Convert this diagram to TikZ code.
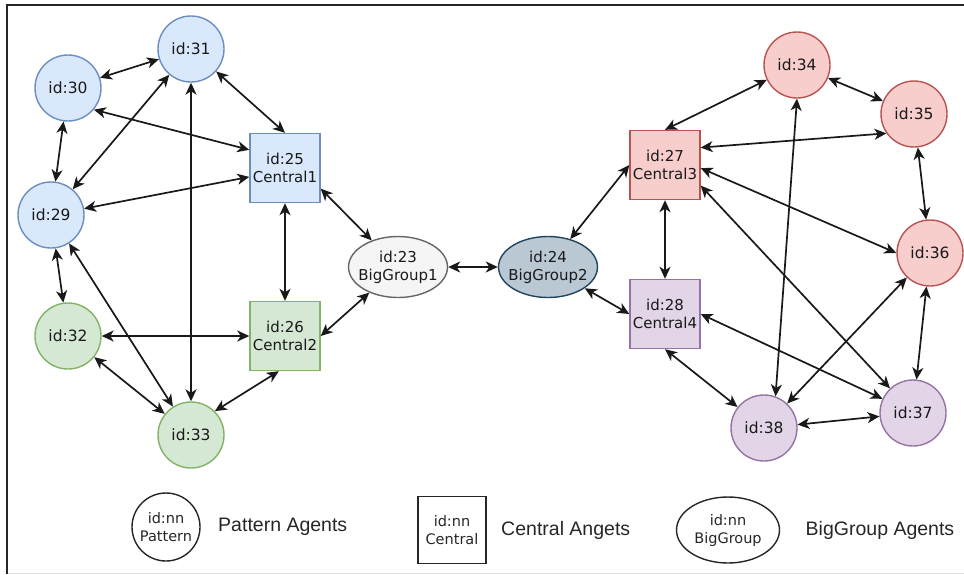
\documentclass[tikz,border=0pt]{standalone}
\usepackage{fontspec}
\setmainfont{DejaVu Sans}
\newfontfamily\legendfont{Liberation Sans}
\usetikzlibrary{positioning,arrows.meta,shapes.geometric}
\definecolor{blueFill}{HTML}{DAE8FC}
\definecolor{blueLine}{HTML}{6C8EBF}
\definecolor{greenFill}{HTML}{D5E8D4}
\definecolor{greenLine}{HTML}{82B366}
\definecolor{redFill}{HTML}{F8CECC}
\definecolor{redLine}{HTML}{B85450}
\definecolor{purpleFill}{HTML}{E1D5E7}
\definecolor{purpleLine}{HTML}{9673A6}
\definecolor{grayFill}{HTML}{F5F5F5}
\definecolor{grayLine}{HTML}{666666}
\definecolor{slateFill}{HTML}{BAC8D3}
\definecolor{slateLine}{HTML}{23445D}

\begin{document}
\begin{tikzpicture}[x=1pt, y=-1pt,
  agent/.style={circle, minimum size=66pt, inner sep=0pt, line width=1.4pt, text=black!90, font=\fontsize{15.5}{18}\selectfont},
  central/.style={rectangle, minimum width=70pt, minimum height=69pt, inner sep=1pt, align=center, line width=1.4pt, text=black!90, font=\fontsize{15}{18}\selectfont},
  biggroup/.style={ellipse, minimum width=99pt, minimum height=61pt, inner xsep=-14pt, inner ysep=0pt, align=center, line width=1.4pt, text=black!90, font=\fontsize{15}{18}\selectfont},
  link/.style={<->, line width=1.7pt, black!90, >={Stealth[length=12pt, width=11pt, inset=3.5pt]}},
  key/.style={draw=black!85, line width=1.4pt, inner sep=0pt, align=center, text=black!85, font=\fontsize{14.5}{18}\selectfont},
  keytext/.style={text=black!85, font=\legendfont\fontsize{19.5}{22}\selectfont}]
\useasboundingbox (0,0) rectangle (964,574);
\draw[gray!25, line width=1pt] (7,573) -- (964,573);
\draw[black!85, line width=1.6pt] (7,574) -- (7,5) -- (964,5);

% left group
\node[agent, fill=blueFill, draw=blueLine] (n31) at (191,49) {id:31};
\node[agent, fill=blueFill, draw=blueLine] (n30) at (68,88) {id:30};
\node[agent, fill=blueFill, draw=blueLine] (n29) at (51,215) {id:29};
\node[agent, fill=greenFill, draw=greenLine] (n32) at (68,336) {id:32};
\node[agent, fill=greenFill, draw=greenLine] (n33) at (191,435) {id:33};
\node[central, fill=blueFill, draw=blueLine] (n25) at (285,168) {id:25\\Central1};
\node[central, fill=greenFill, draw=greenLine] (n26) at (285,336) {id:26\\Central2};
\node[biggroup, fill=grayFill, draw=grayLine] (n23) at (398,267) {id:23\\BigGroup1};

% right group
\node[biggroup, fill=slateFill, draw=slateLine] (n24) at (548,267) {id:24\\BigGroup2};
\node[central, fill=redFill, draw=redLine] (n27) at (665,165) {id:27\\Central3};
\node[central, fill=purpleFill, draw=purpleLine] (n28) at (665,314) {id:28\\Central4};
\node[agent, fill=redFill, draw=redLine] (n34) at (797,65) {id:34};
\node[agent, fill=redFill, draw=redLine] (n35) at (914,114) {id:35};
\node[agent, fill=redFill, draw=redLine] (n36) at (930,253) {id:36};
\node[agent, fill=purpleFill, draw=purpleLine] (n37) at (913,413) {id:37};
\node[agent, fill=purpleFill, draw=purpleLine] (n38) at (764,428) {id:38};

% links, left
\draw[link] (n30) -- (n31);
\draw[link] (n31) -- (n25.north);
\draw[link] (n31) -- (n29);
\draw[link] (n31) -- (n33);
\draw[link] (n30.-40) -- (n25.153);
\draw[link] (n30) -- (n29);
\draw[link] (n29) -- (n25.194);
\draw[link] (n29) -- (n32);
\draw[link] (n29) -- (n33);
\draw[link] (n32) -- (n26);
\draw[link] (n32) -- (n33);
\draw[link] (n33.45) -- (n26.-100);
\draw[link] (n25) -- (n26);
\draw[link] (n25.-30) -- (n23);
\draw[link] (n26.east) -- (n23);
\draw[link] (n23) -- (n24);

% links, right
\draw[link] (n24) -- (n27.west);
\draw[link] (n24) -- (n28.west);
\draw[link] (n27) -- (n28);
\draw[link] (n27.north) -- (n34);
\draw[link] (n27.26) -- (n35.215);
\draw[link] (n27.-5) -- (n36.west);
\draw[link] (n27.-30) -- (n37);
\draw[link] (n34) -- (n35);
\draw[link] (n34.south) -- (n38.70);
\draw[link] (n35) -- (n36);
\draw[link] (n36) -- (n37);
\draw[link] (n36) -- (n38);
\draw[link] (n28.east) -- (n37);
\draw[link] (n28.south) -- (n38);
\draw[link] (n38) -- (n37);

% legend
\node[key, circle, minimum size=68pt] (kp) at (166,527) {id:nn\\Pattern};
\node[keytext, right=14pt of kp] (tp) {Pattern Agents};
\node[key, rectangle, minimum width=68pt, minimum height=67pt] (kc) at (452,530) {id:nn\\Central};
\node[keytext, right=11pt of kc] (tc) {Central Angets};
\node[key, ellipse, minimum width=103pt, minimum height=66pt, inner xsep=-6pt] (kb) at (728,530) {id:nn\\BigGroup};
\node[keytext, right=22pt of kb] (tb) {BigGroup Agents};
\end{tikzpicture}
\end{document}
